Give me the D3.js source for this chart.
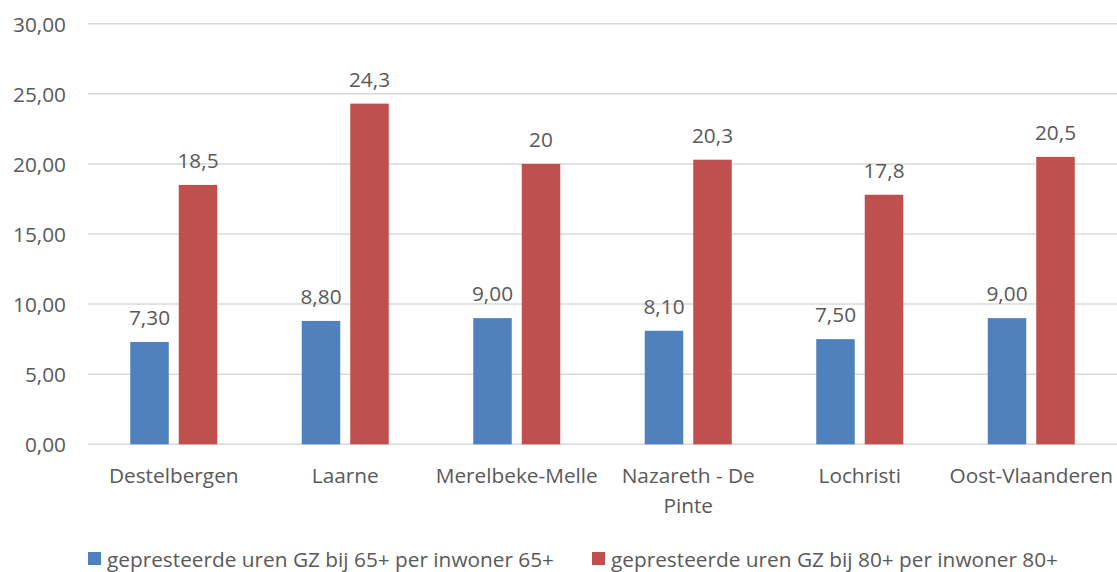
<!DOCTYPE html>
<html>
<head>
<meta charset="utf-8">
<script src="https://cdn.jsdelivr.net/npm/d3@7"></script>
<style>
  html, body { margin: 0; padding: 0; background: #fff; }
  svg { display: block; }
  text { font-family: "Open Sans", "Lato", sans-serif; fill: #595959; }
</style>
</head>
<body>
<svg id="chart" width="1117" height="572"></svg>
<script>
// Gemeenten / regio
const categories = ["Destelbergen", "Laarne", "Merelbeke-Melle", "Nazareth - De Pinte", "Lochristi", "Oost-Vlaanderen"];
// Reeks 1: uren GZ bij 65+ per inwoner 65+
const series65 = [7.30, 8.80, 9.00, 8.10, 7.50, 9.00];
const labels65 = ["7,30", "8,80", "9,00", "8,10", "7,50", "9,00"];
// Reeks 2: uren GZ bij 80+ per inwoner 80+
const series80 = [18.5, 24.3, 20, 20.3, 17.8, 20.5];
const labels80 = ["18,5", "24,3", "20", "20,3", "17,8", "20,5"];
const seriesNames = ["gepresteerde uren GZ bij 65+ per inwoner 65+", "gepresteerde uren GZ bij 80+ per inwoner 80+"];
const yTicks = [0, 5, 10, 15, 20, 25, 30];
const yTickLabels = ["0,00", "5,00", "10,00", "15,00", "20,00", "25,00", "30,00"];

const colors = ["#4F81BD", "#C0504D"];
const fontSize = 20.8;
const svg = d3.select("#chart");

const plot = { left: 88, right: 1117, top: 23.7, bottom: 444.3 };

const x = d3.scaleBand().domain(categories).range([plot.left, plot.right]).padding(0);
const y = d3.scaleLinear().domain([0, 30]).range([plot.bottom, plot.top]);

const barW = 38.5, gap = 10;

// gridlines
svg.append("g").selectAll("line").data(yTicks).join("line")
  .attr("x1", plot.left).attr("x2", plot.right)
  .attr("y1", d => y(d)).attr("y2", d => y(d))
  .attr("stroke", "#d9d9d9").attr("stroke-width", 1.5);

// y tick labels
svg.append("g").selectAll("text").data(yTicks).join("text")
  .attr("x", 66).attr("y", d => y(d))
  .attr("text-anchor", "end").attr("dominant-baseline", "central")
  .attr("font-size", fontSize)
  .text((d, i) => yTickLabels[i]);

const seriesVals = [series65, series80];
const seriesLbls = [labels65, labels80];

seriesVals.forEach((vals, s) => {
  const offset = s === 0 ? -(gap / 2 + barW) : gap / 2;
  const g = svg.append("g");
  g.selectAll("rect").data(vals).join("rect")
    .attr("x", (d, i) => x(categories[i]) + x.bandwidth() / 2 + offset)
    .attr("width", barW)
    .attr("y", d => y(d))
    .attr("height", d => y(0) - y(d))
    .attr("fill", colors[s]);
  g.selectAll("text").data(vals).join("text")
    .attr("x", (d, i) => x(categories[i]) + x.bandwidth() / 2 + offset + barW / 2)
    .attr("y", d => y(d) - 25)
    .attr("text-anchor", "middle").attr("dominant-baseline", "central")
    .attr("font-size", fontSize)
    .text((d, i) => seriesLbls[s][i]);
});

// category labels (wrapped)
const catG = svg.append("g");
categories.forEach(c => {
  const lines = c === "Nazareth - De Pinte" ? ["Nazareth - De", "Pinte"] : [c];
  lines.forEach((ln, j) => {
    catG.append("text")
      .attr("x", x(c) + x.bandwidth() / 2)
      .attr("y", 475 + j * 30)
      .attr("text-anchor", "middle").attr("dominant-baseline", "central")
      .attr("font-size", fontSize)
      .text(ln);
  });
});

// legend
const legendX = [88, 592];
seriesNames.forEach((n, i) => {
  svg.append("rect").attr("x", legendX[i]).attr("y", 552).attr("width", 13).attr("height", 13).attr("fill", colors[i]);
  svg.append("text").attr("x", legendX[i] + 19).attr("y", 559)
    .attr("dominant-baseline", "central").attr("font-size", fontSize)
    .text(n);
});
</script>
</body>
</html>
